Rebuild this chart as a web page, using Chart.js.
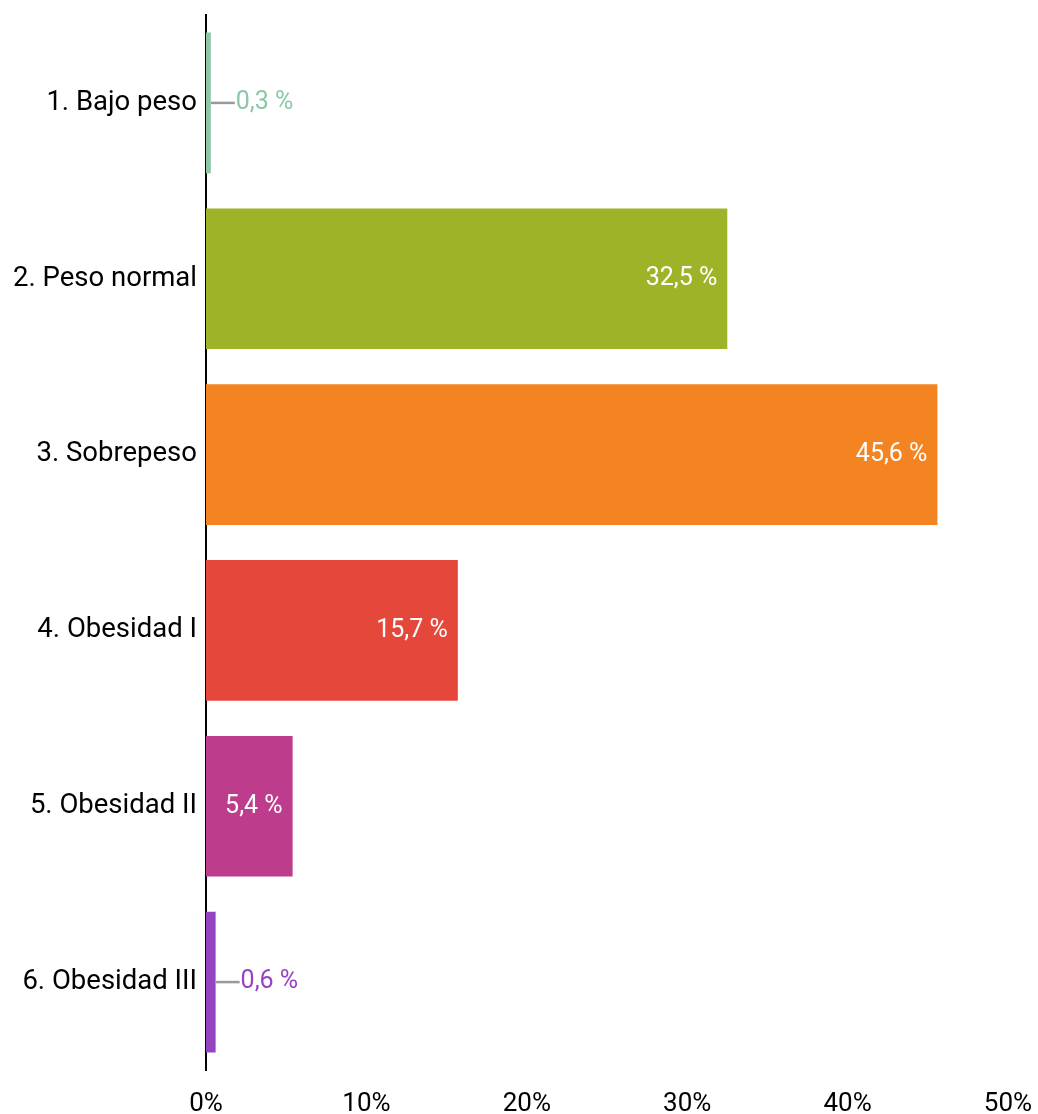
<!DOCTYPE html>
<html>
<head>
<meta charset="utf-8">
<script src="https://cdn.jsdelivr.net/npm/chart.js@4/dist/chart.umd.min.js"></script>
<style>
  html, body { margin: 0; padding: 0; background: #fff; }
  #wrap { width: 1038px; height: 1114px; }
</style>
</head>
<body>
<div id="wrap"><canvas id="chart" width="1038" height="1114"></canvas></div>
<script>
const categories = ["1. Bajo peso", "2. Peso normal", "3. Sobrepeso", "4. Obesidad I", "5. Obesidad II", "6. Obesidad III"];
const values = [0.3, 32.5, 45.6, 15.7, 5.4, 0.6];
const barColors = ["#8cc7a6", "#9fb329", "#f38421", "#e5483a", "#bd3c8c", "#9543c0"];
const xTicks = [0, 10, 20, 30, 40, 50];

const fontFamily = "Roboto, 'Noto Sans', sans-serif";

// value labels: inside (white) when the bar is wide, outside with a leader line otherwise
const valueLabels = {
    id: 'valueLabels',
    afterDatasetsDraw(chart) {
        const ctx = chart.ctx;
        const meta = chart.getDatasetMeta(0);
        ctx.save();
        ctx.font = "25px " + fontFamily;
        ctx.textBaseline = 'middle';
        meta.data.forEach((bar, i) => {
            const text = values[i].toFixed(1).replace('.', ',') + ' %';
            const w = ctx.measureText(text).width;
            const barW = bar.x - bar.base;
            if (barW > w + 20) {
                ctx.fillStyle = '#fff';
                ctx.textAlign = 'right';
                ctx.fillText(text, bar.x - 10, bar.y);
            } else {
                ctx.strokeStyle = '#999';
                ctx.lineWidth = 2.5;
                ctx.beginPath();
                ctx.moveTo(bar.x, bar.y);
                ctx.lineTo(bar.x + 24, bar.y);
                ctx.stroke();
                ctx.fillStyle = barColors[i];
                ctx.textAlign = 'left';
                ctx.fillText(text, bar.x + 25, bar.y);
            }
        });
        ctx.restore();
    }
};

new Chart(document.getElementById('chart'), {
    type: 'bar',
    data: {
        labels: categories,
        datasets: [{
            data: values,
            backgroundColor: barColors,
            categoryPercentage: 0.8,
            barPercentage: 1
        }]
    },
    options: {
        indexAxis: 'y',
        responsive: false,
        animation: false,
        layout: { padding: { top: 15, right: 30, bottom: 0, left: 0 } },
        plugins: {
            legend: { display: false },
            tooltip: { enabled: false }
        },
        scales: {
            x: {
                min: 0,
                max: 50,
                afterBuildTicks: axis => { axis.ticks = xTicks.map(v => ({ value: v })); },
                afterFit: axis => {
                    axis.height = 44;
                    axis.paddingLeft = 0;
                    axis.paddingRight = 0;
                },
                grid: { display: false, drawTicks: false },
                border: { display: false },
                ticks: {
                    padding: 19,
                    color: '#000',
                    font: { family: fontFamily, size: 26 },
                    maxRotation: 0,
                    callback: v => v + '%'
                }
            },
            y: {
                afterFit: axis => {
                    axis.width = 206;
                    axis.paddingTop = 0;
                    axis.paddingBottom = 0;
                },
                grid: { display: false, drawTicks: false },
                border: { display: true, color: '#000', width: 2 },
                ticks: {
                    padding: 9,
                    color: '#000',
                    font: { family: fontFamily, size: 27.5 }
                }
            }
        }
    },
    plugins: [valueLabels]
});
</script>
</body>
</html>
